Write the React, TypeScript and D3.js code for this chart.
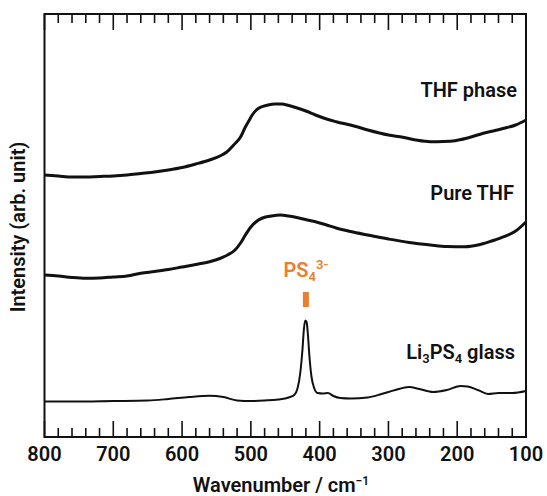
import React from "react";
import * as d3 from "d3";

// Wavenumber (cm^-1) and intensity (arb. unit, offsets included)
const glassWn = [800, 760, 700, 650, 620, 590, 560, 540, 520, 500, 480, 460, 445, 437, 432, 428, 425, 423, 421, 419, 417, 415, 412, 408, 403, 395, 388, 380, 370, 355, 330, 310, 290, 270, 255, 235, 215, 195, 185, 170, 155, 140, 120, 100];
const glassI = [35.5, 35.5, 36, 36.5, 38, 40, 41.3, 40, 36.5, 36, 36.5, 37.5, 39.5, 42, 49, 65, 87, 107, 116.5, 115, 102, 82, 61, 49, 44, 43.5, 44, 41, 39, 38.5, 39.5, 43, 47, 50, 48, 45, 47, 51, 50.5, 47, 43, 44, 44, 46];

const thfPhaseWn = [800, 780, 760, 740, 720, 700, 680, 660, 640, 620, 600, 580, 560, 545, 535, 525, 515, 508, 503, 498, 492, 485, 475, 465, 455, 445, 435, 420, 406, 390, 376, 350, 330, 300, 279, 260, 239, 220, 203, 185, 162, 145, 132, 115, 100];
const thfPhaseI = [262, 261, 260, 260, 260.5, 261, 262, 263.5, 265, 267, 269.5, 273, 277, 281, 285, 292, 300, 310, 316, 322, 327, 330, 332, 333, 333, 331.5, 329.5, 326, 322, 318, 315.3, 311, 307, 302, 299.7, 297, 295.3, 295.5, 296.3, 299, 303.7, 306.5, 308.7, 312, 317];

const pureThfWn = [800, 780, 760, 740, 720, 700, 680, 660, 640, 620, 600, 580, 560, 545, 534, 523, 515, 508, 500, 492, 483, 470, 457, 445, 430, 418, 406, 390, 376, 355, 330, 300, 270, 239, 215, 188, 170, 150, 132, 115, 100];
const pureThfI = [162, 161, 159.5, 158.7, 159, 160, 161, 163.7, 165.5, 167.5, 170, 172.5, 175.3, 178.5, 182, 187, 194, 202, 210, 215.5, 219, 221, 222, 221, 219, 217, 215.3, 212, 209, 205.5, 202, 198, 194.5, 192, 190.5, 190.3, 192, 196, 200.3, 206, 215];

const xMajorTicks = [800, 700, 600, 500, 400, 300, 200, 100];
const xMinorTicks = d3.range(100, 801, 20);

const seriesLabels = ["THF phase", "Pure THF"];

const W = 547;
const H = 496;
const left = 44.5;
const right = 526;
const top = 14;
const bottom = 437;

const FONT = "Roboto, 'Liberation Sans', Arial, sans-serif";
const ORANGE = "#ED7D31";
const FW = 600;

export default function App() {
  const x = d3.scaleLinear().domain([800, 100]).range([left, right]);
  const y = d3.scaleLinear().domain([0, 423]).range([bottom, top]);
  const line = d3
    .line<[number, number]>()
    .x((d) => x(d[0]))
    .y((d) => y(d[1]))
    .curve(d3.curveMonotoneX);

  const zip = (a: number[], b: number[]) => a.map((v, i) => [v, b[i]] as [number, number]);

  return (
    <svg width={W} height={H} style={{ position: "absolute", left: 0, top: 0 }}>
      <rect x={0} y={0} width={W} height={H} fill="#fff" />
      {/* curves */}
      <path d={line(zip(thfPhaseWn, thfPhaseI)) || ""} fill="none" stroke="#111" strokeWidth={3} strokeLinejoin="round" />
      <path d={line(zip(pureThfWn, pureThfI)) || ""} fill="none" stroke="#111" strokeWidth={3} strokeLinejoin="round" />
      <path d={line(zip(glassWn, glassI)) || ""} fill="none" stroke="#111" strokeWidth={2} strokeLinejoin="round" />

      {/* ticks */}
      {xMinorTicks.map((t) => {
        const major = xMajorTicks.includes(t);
        const len = major ? 16 : 9;
        return (
          <g key={t}>
            <line x1={x(t)} x2={x(t)} y1={bottom} y2={bottom - len} stroke="#111" strokeWidth={1.6} />
            <line x1={x(t)} x2={x(t)} y1={top} y2={top + len} stroke="#111" strokeWidth={1.6} />
          </g>
        );
      })}
      {/* frame */}
      <rect x={left} y={top} width={right - left} height={bottom - top} fill="none" stroke="#111" strokeWidth={2} />

      {/* tick labels */}
      {xMajorTicks.map((t) => (
        <text key={t} x={x(t)} y={461} textAnchor="middle" fontFamily={FONT} fontWeight={FW} fontSize={20} fill="#111">
          {t}
        </text>
      ))}
      <text x={281} y={492} textAnchor="middle" fontFamily={FONT} fontWeight={FW} fontSize={20} fill="#111">
        Wavenumber / cm
        <tspan dy={-7} fontSize={12}>−1</tspan>
      </text>
      <text
        transform={`translate(25, 227) rotate(-90)`}
        textAnchor="middle"
        fontFamily={FONT}
        fontWeight={FW}
        fontSize={20}
        fill="#111"
      >
        Intensity (arb. unit)
      </text>

      {/* series labels */}
      <text x={517} y={97} textAnchor="end" fontFamily={FONT} fontWeight={FW} fontSize={20} fill="#111">
        {seriesLabels[0]}
      </text>
      <text x={514} y={200} textAnchor="end" fontFamily={FONT} fontWeight={FW} fontSize={20} fill="#111">
        {seriesLabels[1]}
      </text>
      <text x={515} y={359} textAnchor="end" fontFamily={FONT} fontWeight={FW} fontSize={20} fill="#111">
        Li<tspan fontSize={13} dy={4}>3</tspan>
        <tspan dy={-4}>PS</tspan>
        <tspan fontSize={13} dy={4}>4</tspan>
        <tspan dy={-4}> glass</tspan>
      </text>

      {/* PS4 3- marker */}
      <text x={x(420)} y={277} textAnchor="middle" fontFamily={FONT} fontWeight={FW} fontSize={20} fill={ORANGE}>
        PS<tspan fontSize={13} dy={4}>4</tspan>
        <tspan fontSize={13} dy={-12}>3-</tspan>
      </text>
      <rect x={x(420) - 3} y={292} width={6} height={15} fill={ORANGE} />
    </svg>
  );
}
